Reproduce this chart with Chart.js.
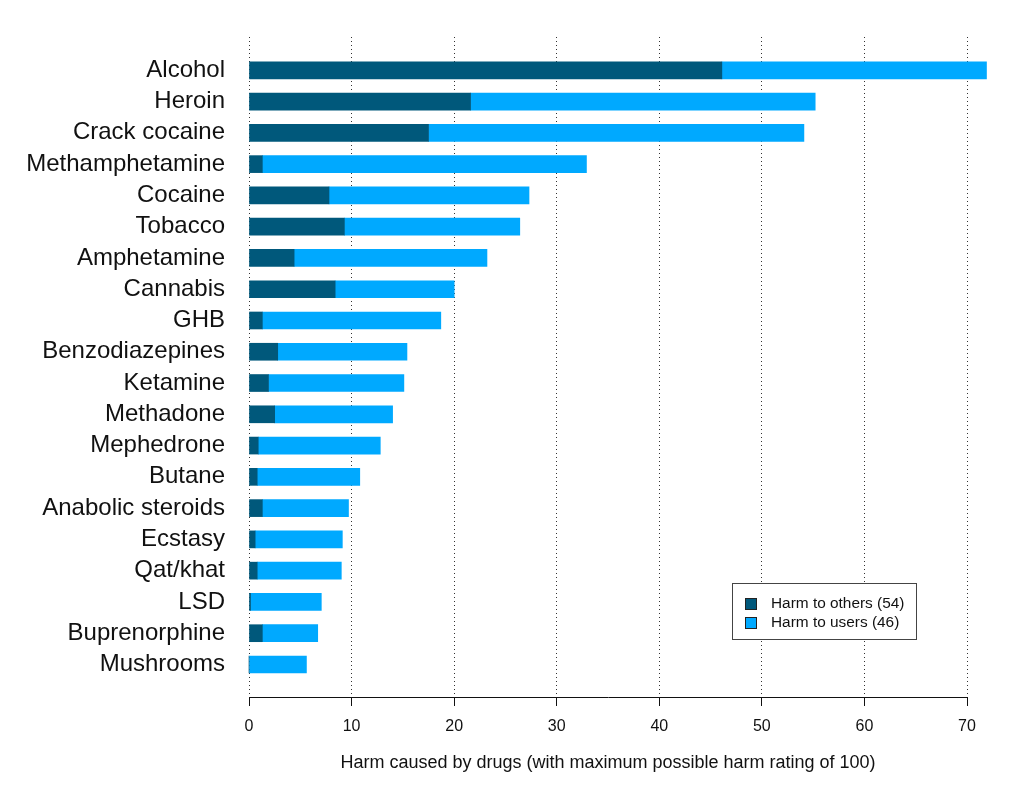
<!DOCTYPE html>
<html>
<head>
<meta charset="utf-8">
<script src="https://cdn.jsdelivr.net/npm/chart.js@4"></script>
<style>
  html, body { margin: 0; padding: 0; background: #ffffff; }
  #wrap { width: 1024px; height: 792px; }
</style>
</head>
<body>
<div id="wrap"><canvas id="c" width="1024" height="792"></canvas></div>
<script>
const drugs = ["Alcohol", "Heroin", "Crack cocaine", "Methamphetamine", "Cocaine", "Tobacco",
  "Amphetamine", "Cannabis", "GHB", "Benzodiazepines", "Ketamine", "Methadone", "Mephedrone",
  "Butane", "Anabolic steroids", "Ecstasy", "Qat/khat", "LSD", "Buprenorphine", "Mushrooms"];
const harmToOthers = [46.1, 21.6, 17.5, 1.3, 7.8, 9.3, 4.4, 8.4, 1.3, 2.8, 1.9, 2.5, 0.9, 0.8, 1.3, 0.6, 0.8, 0.15, 1.3, 0];
const harmToUsers  = [25.8, 33.6, 36.6, 31.6, 19.5, 17.1, 18.8, 11.6, 17.4, 12.6, 13.2, 11.5, 11.9, 10.0, 8.4, 8.5, 8.2, 6.9, 5.4, 5.6];
const xTicks = [0, 10, 20, 30, 40, 50, 60, 70];
const seriesLabels = ["Harm to others (54)", "Harm to users (46)"];
const seriesColors = ["#00587b", "#00a9ff"];
const xTitle = "Harm caused by drugs (with maximum possible harm rating of 100)";

const FONT = "'Liberation Sans', Arial, Helvetica, sans-serif";

const legendBox = {
  id: 'legendBox',
  afterDraw(chart) {
    const ctx = chart.ctx;
    ctx.save();
    const x0 = 732, y0 = 583, w = 184, h = 56;
    ctx.fillStyle = '#ffffff';
    ctx.fillRect(x0, y0, w, h);
    ctx.strokeStyle = '#444';
    ctx.lineWidth = 1;
    ctx.strokeRect(x0 + 0.5, y0 + 0.5, w, h);
    chart.data.datasets.forEach((ds, i) => {
      const cy = 603 + i * 19;
      ctx.fillStyle = ds.backgroundColor;
      ctx.fillRect(745, cy - 5, 11, 11);
      ctx.strokeStyle = '#222';
      ctx.strokeRect(745.5, cy - 4.5, 11, 11);
      ctx.fillStyle = '#111';
      ctx.font = "15.4px " + FONT;
      ctx.textBaseline = 'middle';
      ctx.textAlign = 'left';
      ctx.fillText(ds.label, 771, cy + 1);
    });
    ctx.restore();
  }
};

const toPoints = (arr) => arr.map((v, i) => ({ x: v, y: i }));

new Chart(document.getElementById('c'), {
  type: 'bar',
  data: {
    datasets: [
      { label: seriesLabels[0], data: toPoints(harmToOthers), backgroundColor: seriesColors[0], stack: 's', barThickness: 17, clip: false, borderWidth: 0 },
      { label: seriesLabels[1], data: toPoints(harmToUsers), backgroundColor: seriesColors[1], stack: 's', barThickness: 17, clip: false, borderWidth: 0 }
    ]
  },
  options: {
    indexAxis: 'y',
    responsive: false,
    animation: false,
    devicePixelRatio: 1,
    layout: { padding: { top: 37, right: 57, left: 0, bottom: 0 } },
    plugins: { legend: { display: false }, tooltip: { enabled: false } },
    scales: {
      x: {
        type: 'linear',
        stacked: true,
        bounds: 'data',
        offset: false,
        min: 0, max: 70,
        afterBuildTicks(scale) { scale.ticks = xTicks.map(v => ({ value: v })); },
        afterFit(scale) { scale.height = 95; },
        ticks: { color: '#111', font: { family: FONT, size: 16 }, padding: 11, maxRotation: 0 },
        grid: {
          color: '#333', lineWidth: 1, offset: false,
          drawTicks: true, tickLength: 9, tickColor: '#111', tickBorderDash: [], tickWidth: 1
        },
        border: { display: true, color: '#111', width: 1, dash: [1, 3] },
        title: { display: true, text: xTitle, color: '#111', font: { family: FONT, size: 18 }, padding: { top: 4, bottom: 18 } }
      },
      y: {
        type: 'linear',
        reverse: true,
        bounds: 'data',
        offset: false,
        min: -1.065, max: 20.04,
        afterBuildTicks(scale) { scale.ticks = drugs.map((d, i) => ({ value: i })); },
        afterFit(scale) { scale.width = 249; },
        ticks: {
          autoSkip: false,
          color: '#111',
          font: { family: FONT, size: 24 },
          padding: 16,
          callback: (v) => (Number.isInteger(v) && v >= 0 && v < drugs.length) ? drugs[v] : ''
        },
        grid: { display: false, offset: false },
        border: { display: false }
      }
    }
  },
  plugins: [legendBox]
});
</script>
</body>
</html>
